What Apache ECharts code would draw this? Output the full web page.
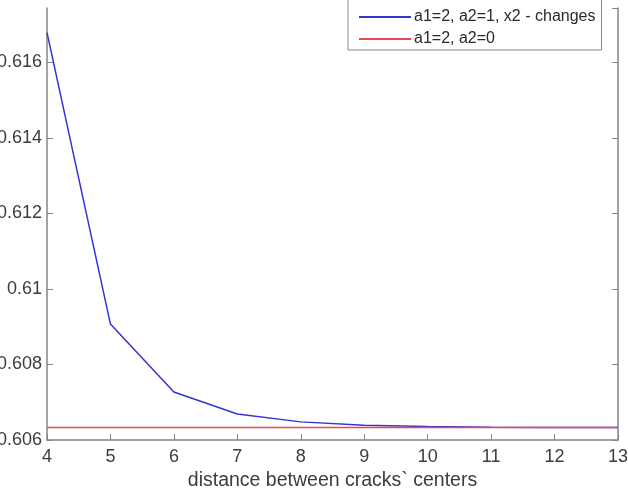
<!DOCTYPE html>
<html>
<head>
    <meta http-equiv="content-type" content="text/html;charset=utf-8">
    <script src="https://cdn.jsdelivr.net/npm/echarts@6/dist/echarts.min.js"></script>
    <style>
        html, body { margin: 0; padding: 0; background: #fff; }
        #chart { width: 628px; height: 493px; }
    </style>
</head>
<body>
<div id="chart"></div>
<script type="text/javascript">
    // distances between crack centres
    var distances = [4, 5, 6, 7, 8, 9, 10, 11, 12, 13];
    // a1=2, a2=1, x2 changes
    var changingValues = [0.61679, 0.60907, 0.60727, 0.60669, 0.60648, 0.60639, 0.60636, 0.60634, 0.60633, 0.60633];
    // a1=2, a2=0 (constant)
    var constValues = [0.60633, 0.60633, 0.60633, 0.60633, 0.60633, 0.60633, 0.60633, 0.60633, 0.60633, 0.60633];
    var seriesNames = ['a1=2, a2=1, x2 - changes', 'a1=2, a2=0'];

    function pairs(xs, ys) {
        var out = [];
        for (var i = 0; i < xs.length; i++) {
            out.push([xs[i], ys[i]]);
        }
        return out;
    }

    var chart = echarts.init(document.getElementById('chart'));
    var axisGrey = '#858585';
    var labelColor = '#3c3c3c';
    var yMin = 0.606, yMax = 0.61744;

    var option = {
        animation: false,
        backgroundColor: '#fff',
        textStyle: { fontFamily: '"Liberation Sans", Arial, sans-serif' },
        // the plot box is fixed; labels may run off the canvas like in the original
        grid: { left: 47, right: 10, top: 8, bottom: 53, outerBoundsMode: 'none', containLabel: false },
        legend: {
            left: 348,
            top: -2,
            orient: 'vertical',
            data: seriesNames,
            icon: 'rect',
            itemWidth: 52,
            itemHeight: 2,
            itemGap: 6,
            padding: [11, 6, 3, 11],
            borderColor: '#8a8a8a',
            borderWidth: 1,
            backgroundColor: '#fff',
            textStyle: { fontSize: 16, color: '#2a2a2a', lineHeight: 16, padding: [0, 0, 0, -2] }
        },
        xAxis: {
            type: 'value',
            min: 4,
            max: 13,
            interval: 1,
            name: 'distance between cracks` centers',
            nameLocation: 'middle',
            nameGap: 30,
            nameTextStyle: { fontSize: 19.5, color: labelColor },
            axisLine: { show: true, lineStyle: { color: axisGrey, width: 1.5 } },
            axisTick: { show: true, inside: true, length: 6, lineStyle: { color: axisGrey } },
            axisLabel: { fontSize: 18, color: labelColor, margin: 8 },
            splitLine: { show: false }
        },
        yAxis: [
            {
                type: 'value',
                min: yMin,
                max: yMax,
                interval: 0.002,
                axisLine: { show: true, lineStyle: { color: axisGrey, width: 1.5 } },
                axisTick: { show: true, inside: true, length: 6, lineStyle: { color: axisGrey } },
                axisLabel: {
                    fontSize: 18,
                    color: labelColor,
                    margin: 5,
                    showMaxLabel: false,
                    formatter: function (v) { return String(parseFloat(v.toFixed(3))); }
                },
                splitLine: { show: false }
            },
            {
                type: 'value',
                position: 'right',
                min: yMin,
                max: yMax,
                interval: 0.002,
                axisLine: { show: true, lineStyle: { color: axisGrey, width: 1.5 } },
                axisTick: { show: true, inside: true, length: 6, lineStyle: { color: axisGrey } },
                axisLabel: { show: false },
                splitLine: { show: false }
            }
        ],
        series: [
            {
                name: seriesNames[0],
                type: 'line',
                data: pairs(distances, changingValues),
                symbol: 'none',
                color: '#3434d4',
                lineStyle: { width: 1.5 },
                z: 3
            },
            {
                name: seriesNames[1],
                type: 'line',
                data: pairs(distances, constValues),
                symbol: 'none',
                color: '#f04650',
                lineStyle: { width: 1.5 },
                z: 4
            }
        ]
    };
    chart.setOption(option);
</script>
</body>
</html>
